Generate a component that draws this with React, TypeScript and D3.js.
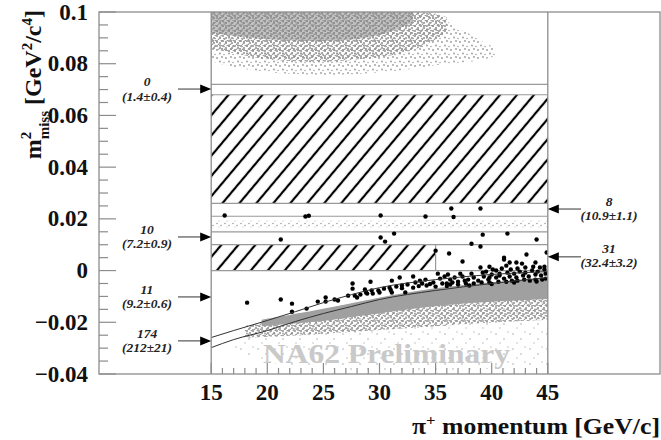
import React from "react";
import * as d3 from "d3";

const W = 661, H = 440;

// axis ticks
const xTickValues = [15, 20, 25, 30, 35, 40, 45];
const xTickLabels = ["15", "20", "25", "30", "35", "40", "45"];
const yTickValues = [0.1, 0.08, 0.06, 0.04, 0.02, 0, -0.02, -0.04];
const yTickLabels = ["0.1", "0.08", "0.06", "0.04", "0.02", "0", "\u22120.02", "\u22120.04"];

// region boundaries (m2 miss)
const regionLines = [0.072, 0.068, 0.026, 0.021, 0.015, 0.01, 0];
const region2 = [15, 45, 0.026, 0.068];
const region1 = [15, 35, 0, 0.01];
const region1b = [35, 45, 0, 0.01];
const pipiBand = [15, 45, 0.0165, 0.0195];

// annotation labels
const leftLabels = [
  { n: "0", e: "(1.4\u00b10.4)", m: 0.0702 },
  { n: "10", e: "(7.2\u00b10.9)", m: 0.013 },
  { n: "11", e: "(9.2\u00b10.6)", m: -0.0102 },
  { n: "174", e: "(212\u00b121)", m: -0.0272 },
];
const rightLabels = [
  { n: "8", e: "(10.9\u00b11.1)", m: 0.0238 },
  { n: "31", e: "(32.4\u00b13.2)", m: 0.0053 },
];

// kinematic curves [p, m2]
const upperCurve = [[15, -0.0259], [17, -0.0232], [20, -0.0193], [22.5, -0.0159], [25, -0.0124], [27.5, -0.0093], [30, -0.0066], [35, -0.0035], [40, -0.0015], [45, -0.0004]];
const lowerCurve = [[15, -0.0298], [17, -0.0267], [20, -0.0232], [22.5, -0.0197], [25, -0.0166], [27.5, -0.0139], [30, -0.0112], [35, -0.0077], [40, -0.005], [45, -0.0027]];

// gray clouds [p, mTop, mBottom]
const topCloudSparse = [[15, 0.1, 0.081], [18, 0.1, 0.0775], [22, 0.1, 0.076], [26, 0.1, 0.0755], [30, 0.1, 0.0765], [33, 0.1, 0.078], [35, 0.099, 0.0795], [37, 0.094, 0.0805], [39, 0.089, 0.081], [40.3, 0.086, 0.083]];
const topCloudDense = [[15, 0.1, 0.086], [18, 0.1, 0.083], [21, 0.1, 0.081], [25, 0.1, 0.0805], [28, 0.1, 0.0815], [31, 0.1, 0.083], [33, 0.1, 0.085], [34.5, 0.1, 0.088], [36, 0.098, 0.092]];
const topCloudCore = [[15, 0.1, 0.092], [19, 0.1, 0.0895], [24, 0.1, 0.0885], [28, 0.1, 0.089], [31, 0.1, 0.092], [33, 0.1, 0.096]];
const bandSparse = [[17, -0.026, -0.032], [20, -0.0225, -0.036], [25, -0.018, -0.038], [30, -0.014, -0.039], [35, -0.012, -0.039], [40, -0.011, -0.038], [45, -0.01, -0.037]];
const bandHalo = [[18, -0.0215, -0.026], [21, -0.0185, -0.0255], [25, -0.015, -0.0245], [30, -0.0105, -0.023], [35, -0.0068, -0.0215], [40, -0.0046, -0.02], [45, -0.003, -0.019]];
const bandCore = [[19.5, -0.019, -0.0215], [23, -0.0163, -0.0203], [26, -0.014, -0.019], [30, -0.0103, -0.0165], [35, -0.0066, -0.0135], [40, -0.0044, -0.012], [45, -0.0028, -0.011]];

// black events [p, m2]
const blackEvents = [
  [16.2, 0.0213], [23.4, 0.0209], [23.7, 0.0212], [30.1, 0.0213], [34.1, 0.0209], [36.4, 0.024], [39.0, 0.024], [36.6, 0.0207],
  [21.2, 0.012], [30.1, 0.0128], [30.5, 0.0112], [31.3, 0.0143], [39.2, 0.0139], [41.4, 0.0143], [44.0, 0.012], [38.2, 0.0104],
  [39.0, 0.0093], [35.0, 0.0077], [36.2, 0.0066], [37.4, 0.0035], [41.1, 0.005], [41.6, 0.0031], [42.2, 0.0031], [42.7, 0.0027], [43.1, 0.0062], [43.9, 0.0031], [44.9, 0.007], [40.9, 0.0008], [39.8, 0.0015], [41.3, 0.0019],
  [18.2, -0.0124], [21.2, -0.0112], [22.2, -0.0128], [22.2, -0.0159], [23.5, -0.0147], [24.5, -0.012], [25.2, -0.012], [25.2, -0.0104], [26.0, -0.0112], [26.3, -0.0116], [27.2, -0.0097], [27.6, -0.005], [27.6, -0.007], [28.0, -0.0104], [28.7, -0.0073], [28.9, -0.0089], [29.2, -0.0043], [29.4, -0.0089], [31.1, -0.0039], [31.1, -0.0085], [31.8, -0.0027], [32.3, -0.0085], [33.0, -0.0023], [33.0, -0.0066], [33.8, -0.005], [34.2, -0.0058], [34.8, -0.0046], [35.2, -0.0012], [35.6, -0.005], [36.0, -0.005], [36.5, -0.0046], [36.1, -0.0015], [37.2, -0.0012], [37.6, -0.0039], [38.2, -0.0012], [39.0, 0.0012], [39.2, -0.0008], [39.8, -0.0027], [40.1, 0.0004], [40.7, -0.0012], [41.1, 0.0043],
  [35.4, -0.0031], [35.8, -0.0023], [36.3, -0.0035], [36.7, -0.0027], [37.0, -0.0043], [37.4, -0.0023], [37.9, -0.0035], [38.4, -0.0027], [38.8, -0.0039], [39.3, -0.0023], [39.7, -0.0035], [40.0, -0.0015], [40.4, -0.0027], [40.7, -0.0019], [41.1, -0.0031], [41.4, -0.0008], [41.6, -0.0023], [42.0, -0.0012], [42.2, -0.0027], [42.5, -0.0004], [42.8, -0.0019], [43.0, -0.0008], [43.3, -0.0023], [43.6, 0.0], [43.9, -0.0015], [44.1, -0.0004], [44.4, -0.0019], [44.7, 0.0004], [44.8, -0.0012], [44.8, -0.0031], [44.5, -0.0035], [43.9, -0.0035], [43.4, -0.0039], [42.9, -0.0035], [42.3, -0.0039], [41.8, -0.0039], [41.3, -0.0043], [40.6, -0.0043], [39.8, -0.0046], [39.1, -0.0046], [38.4, -0.005], [37.7, -0.005], [37.0, -0.0054], [36.3, -0.0054],
  [34.1, -0.0035], [33.6, -0.0039], [33.2, -0.0046], [32.5, -0.0054], [32.0, -0.0058], [31.5, -0.0062], [30.9, -0.0066], [30.4, -0.007], [29.9, -0.0077], [29.3, -0.0077], [28.8, -0.0085], [28.3, -0.0093], [27.8, -0.0097],
  [44.7, 0.0015], [44.3, 0.0012], [43.7, 0.0015], [43.0, 0.0012], [42.3, 0.0008], [41.7, 0.0004], [40.4, 0.0], [39.5, -0.0004],
  [30.0, -0.0085], [31.0, -0.0075], [32.0, -0.0068], [33.5, -0.006], [34.5, -0.0052], [35.0, -0.0062], [36.0, -0.006], [38.0, -0.0058], [40.0, -0.0052], [42.0, -0.0046], [44.0, -0.0042],
];

const x = d3.scaleLinear().domain([5, 55]).range([99, 660]);
const y = d3.scaleLinear().domain([-0.04, 0.1]).range([374, 12]);

const frameColor = "#8c8c8c";
const tStyle = { fontFamily: '"Liberation Serif"' };

function bandPath(data: number[][]) {
  return d3.area<number[]>()
    .x((d) => x(d[0]))
    .y0((d) => y(d[2]))
    .y1((d) => y(d[1]))
    .curve(d3.curveBasis)(data) || "";
}

const curveLine = d3.line<number[]>().x((d) => x(d[0])).y((d) => y(d[1])).curve(d3.curveMonotoneX);

export default function App() {
  const xMinor = d3.range(15, 45.001, 1);
  const yMinor = d3.range(-0.04, 0.1001, 0.005);
  const rect = (r: number[]) => ({ x: x(r[0]), y: y(r[3]), width: x(r[1]) - x(r[0]), height: y(r[2]) - y(r[3]) });
  return (
    <svg width={W} height={H} style={{ position: "absolute", left: 0, top: 0, background: "#fff" }}>
      <defs>
        <pattern id="hatch" patternUnits="userSpaceOnUse" width="13" height="13" patternTransform="rotate(40)">
          <line x1="2" y1="0" x2="2" y2="13" stroke="#000" strokeWidth="2.2" />
        </pattern>
        <pattern id="dDense" patternUnits="userSpaceOnUse" width="6" height="5">
          <circle cx="1" cy="1" r="1.0" fill="#8e8e8e" />
          <circle cx="4" cy="3" r="1.0" fill="#8e8e8e" />
          <circle cx="2.5" cy="4.3" r="0.8" fill="#9a9a9a" />
          <circle cx="5.3" cy="0.5" r="0.8" fill="#9a9a9a" />
        </pattern>
        <pattern id="dMed" patternUnits="userSpaceOnUse" width="9" height="8">
          <circle cx="1" cy="2" r="0.9" fill="#999" />
          <circle cx="6" cy="1" r="0.9" fill="#999" />
          <circle cx="4" cy="5.5" r="0.9" fill="#999" />
          <circle cx="8" cy="6.5" r="0.8" fill="#a4a4a4" />
        </pattern>
        <pattern id="dSparse" patternUnits="userSpaceOnUse" width="17" height="15">
          <circle cx="3" cy="4" r="0.8" fill="#aaa" />
          <circle cx="11" cy="9" r="0.8" fill="#aaa" />
          <circle cx="7" cy="13" r="0.7" fill="#b0b0b0" />
          <circle cx="15" cy="2" r="0.7" fill="#b0b0b0" />
        </pattern>
        <pattern id="dPipi" patternUnits="userSpaceOnUse" width="8" height="6">
          <circle cx="1" cy="1.5" r="0.8" fill="#a0a0a0" />
          <circle cx="5" cy="3.5" r="0.8" fill="#a0a0a0" />
          <circle cx="3" cy="5" r="0.6" fill="#b0b0b0" />
        </pattern>
        <clipPath id="plotClip">
          <rect x={x(15)} y={y(0.1)} width={x(45) - x(15)} height={y(-0.04) - y(0.1)} />
        </clipPath>
      </defs>

      <g clipPath="url(#plotClip)">
        <path d={bandPath(topCloudSparse)} fill="url(#dMed)" />
        <path d={bandPath(topCloudDense)} fill="url(#dDense)" />
        <path d={bandPath(topCloudDense)} fill="url(#dMed)" />
        <path d={bandPath(topCloudCore)} fill="#9a9a9a" opacity={0.6} />
        <path d={bandPath(topCloudCore)} fill="url(#dDense)" />
        <path d={bandPath(bandSparse)} fill="url(#dSparse)" />
        <path d={bandPath(bandHalo)} fill="url(#dMed)" />
        <path d={bandPath(bandHalo)} fill="url(#dDense)" />
        <path d={bandPath(bandCore)} fill="#a0a0a0" />
        <rect {...rect(pipiBand)} fill="url(#dPipi)" />
      </g>

      <rect {...rect(region2)} fill="url(#hatch)" />
      <rect {...rect(region1)} fill="url(#hatch)" />
      {regionLines.map((m, i) => (
        <line key={"rl" + i} x1={x(15)} x2={x(45)} y1={y(m)} y2={y(m)} stroke="#999" strokeWidth={1.2} />
      ))}
      <line x1={x(region1b[0])} x2={x(region1b[0])} y1={y(region1b[2])} y2={y(region1b[3])} stroke="#999" strokeWidth={1.2} />

      <g clipPath="url(#plotClip)">
        {blackEvents.map((d, i) => (
          <circle key={"b" + i} cx={x(d[0])} cy={y(d[1])} r={2.2} fill="#000" />
        ))}
      </g>

      <path d={curveLine(upperCurve) || ""} fill="none" stroke="#333" strokeWidth={1} />
      <path d={curveLine(lowerCurve) || ""} fill="none" stroke="#333" strokeWidth={1} />

      <text x={263} y={363} fontSize={28} fontWeight="bold" fill="#c9c9c9" style={tStyle} textLength={247} lengthAdjust="spacingAndGlyphs">NA62 Preliminary</text>

      {/* frame */}
      <rect x={x(5)} y={y(0.1)} width={x(55) - x(5)} height={y(-0.04) - y(0.1)} fill="none" stroke={frameColor} strokeWidth={1.3} />
      <line x1={x(15)} x2={x(15)} y1={y(0.1)} y2={y(-0.04)} stroke={frameColor} strokeWidth={1.3} />
      <line x1={x(45)} x2={x(45)} y1={y(0.1)} y2={y(-0.04)} stroke={frameColor} strokeWidth={1.3} />

      {/* y ticks */}
      {yMinor.map((v, i) => {
        const major = Math.abs(Math.round(v / 0.02) * 0.02 - v) < 1e-6;
        return <line key={"ym" + i} x1={x(5)} x2={x(5) + (major ? 17 : 9)} y1={y(v)} y2={y(v)} stroke={frameColor} strokeWidth={1.2} />;
      })}
      {yTickValues.map((v, i) => (
        <text key={"yl" + i} x={88} y={y(v) + 7.5} fontSize={23} fontWeight="bold" textAnchor="end" fill="#111" style={tStyle}>{yTickLabels[i]}</text>
      ))}

      {/* x ticks */}
      {xMinor.map((v, i) => {
        const major = v % 5 === 0;
        return <line key={"xm" + i} x1={x(v)} x2={x(v)} y1={y(-0.04)} y2={y(-0.04) - (major ? 11 : 6)} stroke={frameColor} strokeWidth={1.2} />;
      })}
      {xTickValues.map((v, i) => (
        <text key={"xl" + i} x={x(v)} y={400} fontSize={23} fontWeight="bold" textAnchor="middle" fill="#111" style={tStyle}>{xTickLabels[i]}</text>
      ))}

      {/* axis titles */}
      <text x={660} y={434} fontSize={23} fontWeight="bold" textAnchor="end" fill="#111" style={tStyle} textLength={248} lengthAdjust="spacingAndGlyphs">
        {"\u03c0"}<tspan dy={-9} fontSize={15}>+</tspan><tspan dy={9}>{" momentum [GeV/c]"}</tspan>
      </text>
      <text transform="translate(41,10) rotate(-90)" fontSize={24} fontWeight="bold" textAnchor="end" fill="#111" style={tStyle}>
        m<tspan dy={-10} fontSize={15}>2</tspan><tspan dx={-7.5} dy={18} fontSize={15}>miss</tspan>
        <tspan dy={-8}>{" [GeV"}</tspan><tspan dy={-9} fontSize={15}>2</tspan><tspan dy={9}>/c</tspan><tspan dy={-9} fontSize={15}>4</tspan><tspan dy={9}>]</tspan>
      </text>

      {/* left annotations */}
      {leftLabels.map((l, i) => {
        const yy = y(l.m);
        return (
          <g key={"la" + i}>
            <text x={147} y={yy - 3} fontSize={13.5} fontStyle="italic" fontWeight="bold" textAnchor="middle" fill="#222" style={tStyle}>{l.n}</text>
            <text x={147} y={yy + 11.5} fontSize={13.5} fontStyle="italic" fontWeight="bold" textAnchor="middle" fill="#222" style={tStyle}>{l.e}</text>
            <line x1={178} x2={201} y1={yy} y2={yy} stroke="#333" strokeWidth={1} />
            <path d={`M${x(15)},${yy} L${x(15) - 11},${yy - 4.5} L${x(15) - 11},${yy + 4.5} Z`} fill="#000" />
          </g>
        );
      })}
      {rightLabels.map((l, i) => {
        const yy = y(l.m);
        return (
          <g key={"ra" + i}>
            <text x={609} y={yy - 3.5} fontSize={13.5} fontStyle="italic" fontWeight="bold" textAnchor="middle" fill="#222" style={tStyle}>{l.n}</text>
            <text x={609} y={yy + 10.5} fontSize={13.5} fontStyle="italic" fontWeight="bold" textAnchor="middle" fill="#222" style={tStyle}>{l.e}</text>
            <line x1={x(45) + 10} x2={581} y1={yy} y2={yy} stroke="#333" strokeWidth={1} />
            <path d={`M${x(45)},${yy} L${x(45) + 11},${yy - 4.5} L${x(45) + 11},${yy + 4.5} Z`} fill="#000" />
          </g>
        );
      })}
    </svg>
  );
}
